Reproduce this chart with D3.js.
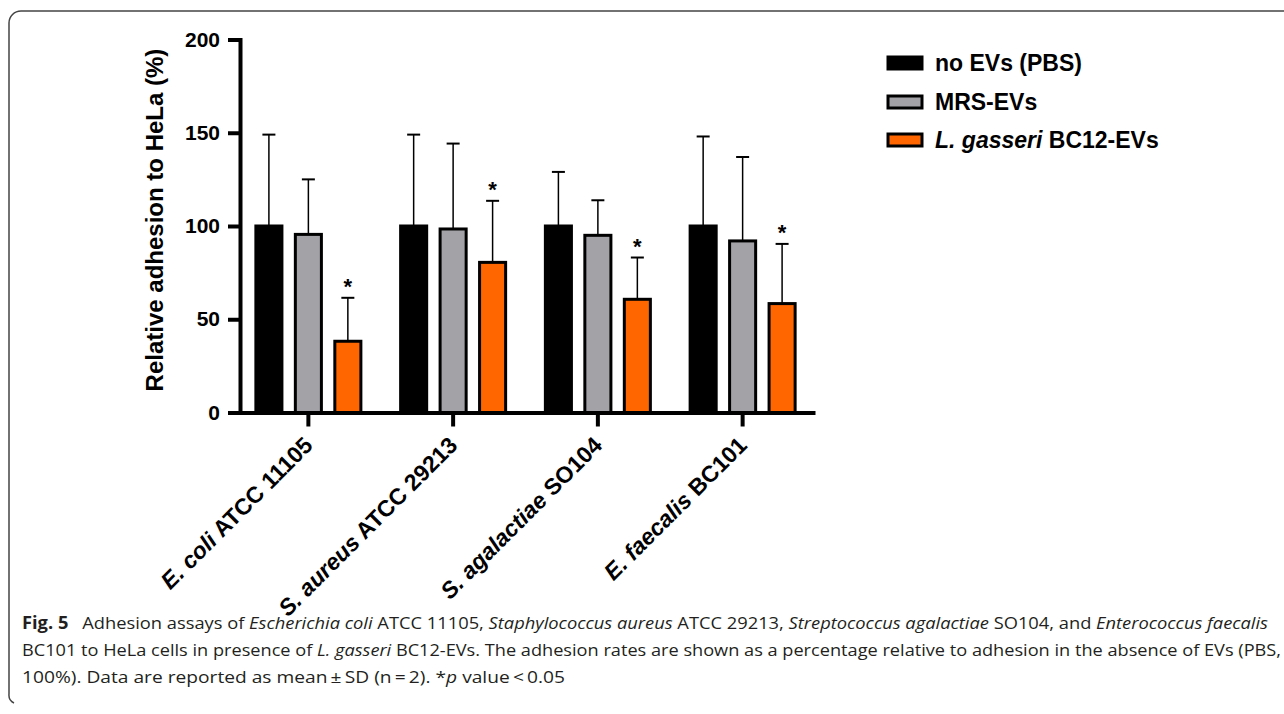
<!DOCTYPE html>
<html>
<head>
<meta charset="utf-8">
<script src="https://cdn.jsdelivr.net/npm/d3@7"></script>
<style>
  body { margin: 0; background: #fff; }
  text { font-family: 'Liberation Sans', Arial, Helvetica, sans-serif; }
  .caption text { font-family: 'Open Sans', sans-serif; fill: #231f20; }
</style>
</head>
<body>
<div id="my_dataviz"></div>
<script>
// data
const groupItalic = ['E. coli', 'S. aureus', 'S. agalactiae', 'E. faecalis'];
const groupRest = [' ATCC 11105', ' ATCC 29213', ' SO104', ' BC101'];
const groups = groupItalic.map((d, i) => d + groupRest[i]);

const seriesNames = ['no EVs (PBS)', 'MRS-EVs', 'L. gasseri BC12-EVs'];
const pbsMean = [100, 100, 100, 100];
const pbsSd = [49, 49, 29, 48];
const mrsMean = [95.5, 98.4, 95, 92];
const mrsSd = [29.5, 45.8, 18.8, 45];
const bc12Mean = [38.2, 80.5, 60.7, 58.4];
const bc12Sd = [23.3, 33, 22.4, 32];
const bc12Star = [true, true, true, true];
const yTicks = [0, 50, 100, 150, 200];

const width = 1284;
const height = 714;
const axisX = 240;
const fontFamily = "'Liberation Sans', Arial, Helvetica, sans-serif";
const colors = ['#000000', '#a3a3a7', '#ff6600'];

const means = [pbsMean, mrsMean, bc12Mean];
const sds = [pbsSd, mrsSd, bc12Sd];
const stars = [[], [], bc12Star];

const yScale = d3.scaleLinear().domain([0, 200]).range([412.5, 39.5]);
const xScale = d3.scaleBand().domain(groups).range([236, 815]);
const xInner = d3.scaleBand().domain(seriesNames).range([-52.5, 52.5]).paddingInner(0.34);

const svg = d3.select('#my_dataviz')
  .append('svg')
    .attr('width', width)
    .attr('height', height);

// frame round figure
svg.append('path')
  .attr('d', 'M1290,11 H21 A12,12 0 0 0 9,23 V694 A9,9 0 0 0 14,703')
  .attr('fill', 'none')
  .attr('stroke', '#444')
  .attr('stroke-width', 1.5);

const rows = [];
groups.forEach((g, i) => {
  seriesNames.forEach((s, j) => {
    rows.push({group: g, series: s, j: j, mean: means[j][i], sd: sds[j][i], star: !!stars[j][i]});
  });
});

const g = svg.append('g');

// bars
g.selectAll('.bar')
  .data(rows)
  .join('rect')
    .attr('class', 'bar')
    .attr('x', d => xScale(d.group) + xScale.bandwidth() / 2 + xInner(d.series))
    .attr('y', d => yScale(d.mean))
    .attr('width', xInner.bandwidth())
    .attr('height', d => yScale(0) - yScale(d.mean))
    .attr('fill', d => colors[d.j])
    .attr('stroke', '#000')
    .attr('stroke-width', 3);

const cx = d => xScale(d.group) + xScale.bandwidth() / 2 + xInner(d.series) + xInner.bandwidth() / 2;

// error bars, upper only
g.selectAll('.err')
  .data(rows)
  .join('line')
    .attr('x1', cx).attr('x2', cx)
    .attr('y1', d => yScale(d.mean))
    .attr('y2', d => yScale(d.mean + d.sd))
    .attr('stroke', '#000')
    .attr('stroke-width', 1.5);

g.selectAll('.cap')
  .data(rows)
  .join('line')
    .attr('x1', d => cx(d) - 6.5).attr('x2', d => cx(d) + 6.5)
    .attr('y1', d => yScale(d.mean + d.sd))
    .attr('y2', d => yScale(d.mean + d.sd))
    .attr('stroke', '#000')
    .attr('stroke-width', 2);

g.selectAll('.star')
  .data(rows.filter(d => d.star))
  .join('text')
    .attr('x', cx)
    .attr('y', d => yScale(d.mean + d.sd) - 4)
    .attr('text-anchor', 'middle')
    .style('font-size', '22px')
    .style('font-weight', 'bold')
    .attr('fill', '#000')
    .text('*');

// y axis
const yAxis = svg.append('g')
  .attr('transform', `translate(${axisX},0)`)
  .call(d3.axisLeft(yScale).tickValues(yTicks).tickSize(12).tickSizeOuter(0).tickPadding(8))
  .call(a => a.select('.domain').attr('stroke-width', 4).attr('stroke-linecap', 'square'))
  .call(a => a.selectAll('.tick line').attr('stroke-width', 4))
  .call(a => a.selectAll('.tick text')
      .style('font-family', fontFamily)
      .style('font-size', '21px')
      .style('font-weight', 'bold')
      .attr('fill', '#000'));

svg.append('text')
  .attr('transform', 'translate(163,220) rotate(-90)')
  .attr('text-anchor', 'middle')
  .style('font-size', '24px')
  .style('font-weight', 'bold')
  .attr('fill', '#000')
  .text('Relative adhesion to HeLa (%)');

// x axis
const xAxis = svg.append('g')
  .attr('transform', `translate(0,${yScale(0)})`)
  .call(d3.axisBottom(xScale).tickSize(14).tickSizeOuter(0).tickFormat(''))
  .call(a => a.select('.domain').attr('stroke-width', 4))
  .call(a => a.selectAll('.tick line').attr('stroke-width', 4));

const xl = svg.selectAll('.xlab')
  .data(groups)
  .join('text')
    .attr('class', 'xlab')
    .attr('transform', d => `translate(${xScale(d) + xScale.bandwidth() / 2},441) rotate(-45)`)
    .attr('text-anchor', 'end')
    .attr('dy', '0.35em')
    .style('font-size', '23px')
    .style('font-weight', 'bold')
    .attr('fill', '#000');
xl.append('tspan').style('font-style', 'italic').text((d, i) => groupItalic[i]);
xl.append('tspan').text((d, i) => groupRest[i]);

// legend
const legendY = [63, 102, 140];
const legend = svg.selectAll('.legend')
  .data(seriesNames)
  .join('g')
    .attr('class', 'legend')
    .attr('transform', (d, i) => `translate(888, ${legendY[i]})`);

legend.append('rect')
  .attr('x', 0).attr('y', -6)
  .attr('width', 34).attr('height', 12)
  .attr('fill', (d, i) => colors[i])
  .attr('stroke', '#000')
  .attr('stroke-width', 3);

const lt = legend.append('text')
  .attr('x', 47)
  .attr('y', 8)
  .style('font-size', '23px')
  .style('font-weight', 'bold')
  .attr('fill', '#000');
lt.filter((d, i) => i < 2).text(d => d);
lt.filter((d, i) => i === 2).call(t => {
  t.append('tspan').style('font-style', 'italic').text('L. gasseri');
  t.append('tspan').text(' BC12-EVs');
});

// caption
const cap = svg.append('g').attr('class', 'caption');
const capSize = '17px';

const c1 = cap.append('text').attr('x', 22).attr('y', 629).style('font-size', capSize)
  .attr('textLength', 1246).attr('lengthAdjust', 'spacingAndGlyphs');
c1.append('tspan').style('font-weight', 'bold').text('Fig. 5');
c1.append('tspan').text('\u2002 Adhesion assays of ');
c1.append('tspan').style('font-style', 'italic').text('Escherichia coli');
c1.append('tspan').text(' ATCC 11105, ');
c1.append('tspan').style('font-style', 'italic').text('Staphylococcus aureus');
c1.append('tspan').text(' ATCC 29213, ');
c1.append('tspan').style('font-style', 'italic').text('Streptococcus agalactiae');
c1.append('tspan').text(' SO104, and ');
c1.append('tspan').style('font-style', 'italic').text('Enterococcus faecalis');

const c2 = cap.append('text').attr('x', 22).attr('y', 656).style('font-size', capSize)
  .attr('textLength', 1259).attr('lengthAdjust', 'spacingAndGlyphs');
c2.append('tspan').text('BC101 to HeLa cells in presence of ');
c2.append('tspan').style('font-style', 'italic').text('L. gasseri');
c2.append('tspan').text(' BC12-EVs. The adhesion rates are shown as a percentage relative to adhesion in the absence of EVs (PBS,');

const c3 = cap.append('text').attr('x', 22).attr('y', 683).style('font-size', capSize)
  .attr('textLength', 543).attr('lengthAdjust', 'spacingAndGlyphs');
c3.append('tspan').text('100%). Data are reported as mean\u2009\u00b1\u2009SD (n\u2009=\u20092). *');
c3.append('tspan').style('font-style', 'italic').text('p');
c3.append('tspan').text(' value\u2009<\u20090.05');
</script>
</body>
</html>
